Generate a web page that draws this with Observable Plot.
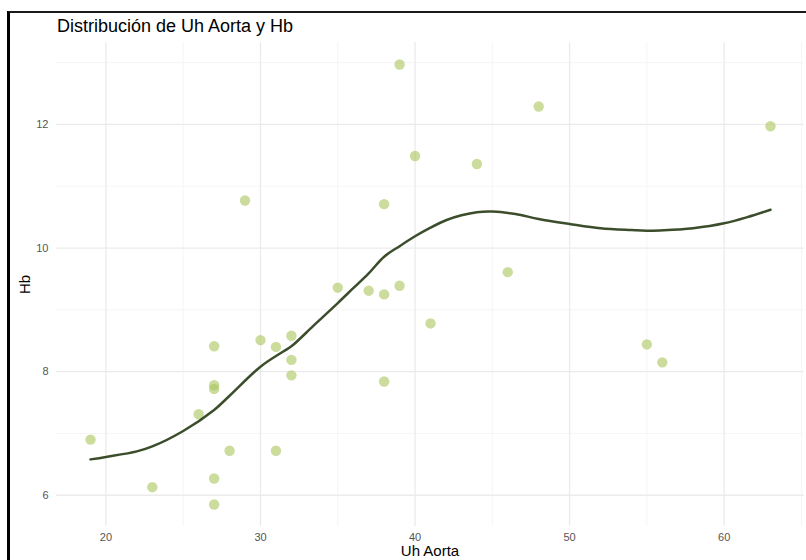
<!DOCTYPE html>
<html>
<head>
<meta charset="utf-8">
<script src="https://cdn.jsdelivr.net/npm/d3@7"></script>
<script src="https://cdn.jsdelivr.net/npm/@observablehq/plot@0.6"></script>
<style>
  html, body { margin: 0; padding: 0; background: #fff; }
  #wrap { position: relative; width: 806px; height: 560px; overflow: hidden;
          font-family: "Liberation Sans", Arial, sans-serif; }
  #frame { position: absolute; left: 7px; top: 11px; right: -10px; bottom: -10px;
           border-left: 3px solid #000; border-top: 2px solid #1a1a1a; pointer-events: none; }
  #chart { position: absolute; left: 0; top: 0; }
  .lbl { position: absolute; color: #000; white-space: nowrap; }
  #title { left: 57px; top: 17.3px; font-size: 18px; line-height: 18px; }
  #xlab { left: 330px; width: 200px; text-align: center; top: 543.3px; font-size: 15px; line-height: 15px; }
  #ylab { left: 3.8px; top: 276.5px; width: 40px; height: 15px; text-align: center;
          font-size: 15px; line-height: 15px; transform: rotate(-90deg); transform-origin: center; }
</style>
</head>
<body>
<div id="wrap">
  <div id="chart"></div>
  <div id="frame"></div>
  <div class="lbl" id="title">Distribución de Uh Aorta y Hb</div>
  <div class="lbl" id="xlab">Uh Aorta</div>
  <div class="lbl" id="ylab">Hb</div>
</div>
<script>
// Observations: Uh Aorta vs Hb
const uhAorta = [19, 23, 26, 27, 27, 27, 27, 27, 28, 29, 30, 31, 31, 32, 32, 32,
                 35, 37, 38, 38, 38, 39, 39, 40, 41, 44, 46, 48, 55, 56, 63];
const hb = [6.90, 6.13, 7.31, 8.41, 7.78, 7.72, 6.27, 5.85, 6.72, 10.77, 8.51, 8.40, 6.72, 8.58, 8.19, 7.94,
            9.36, 9.31, 9.25, 10.71, 7.84, 12.97, 9.39, 11.49, 8.78, 11.36, 9.61, 12.29, 8.44, 8.15, 11.97];

// Smoothed trend (loess fit)
const smoothX = [19, 20, 22, 23, 25, 27, 28, 30, 31.5, 32, 33.5, 35, 36, 37, 38, 39, 40, 41, 42, 43,
                 44, 45, 46.5, 48, 50, 52, 54, 55, 57, 58, 60, 61.5, 63];
const smoothY = [6.58, 6.62, 6.71, 6.79, 7.04, 7.38, 7.61, 8.08, 8.33, 8.41, 8.76, 9.11, 9.35, 9.59, 9.86,
                 10.03, 10.19, 10.33, 10.45, 10.53, 10.58, 10.59, 10.55, 10.47, 10.39, 10.32, 10.29, 10.28,
                 10.30, 10.32, 10.40, 10.50, 10.62];

// Axis ticks and gridlines
const xTicks = [20, 30, 40, 50, 60];
const xMinor = [25, 35, 45, 55, 65];
const yTicks = [6, 8, 10, 12];
const yMinor = [7, 9, 11, 13];

const points = uhAorta.map((x, i) => ({x, y: hb[i]}));
const trend = smoothX.map((x, i) => ({x, y: smoothY[i]}));

const chart = Plot.plot({
  width: 806,
  height: 560,
  marginLeft: 56,
  marginRight: 2,
  marginTop: 42,
  marginBottom: 34,
  style: {
    fontFamily: "Liberation Sans, Arial, sans-serif",
    fontSize: "11px",
    color: "#555",
    background: "transparent",
    overflow: "visible"
  },
  x: {domain: [16.8, 65.2]},
  y: {domain: [5.494, 13.326]},
  marks: [
    Plot.ruleX(xMinor, {stroke: "#f2f2f2", strokeWidth: 0.8}),
    Plot.ruleY(yMinor, {stroke: "#f2f2f2", strokeWidth: 0.8}),
    Plot.ruleX(xTicks, {stroke: "#ebebeb", strokeWidth: 1.3}),
    Plot.ruleY(yTicks, {stroke: "#ebebeb", strokeWidth: 1.3}),
    Plot.axisX({ticks: xTicks, tickSize: 0, tickPadding: 7, label: null, fill: "#555"}),
    Plot.axisY({ticks: yTicks, tickSize: 0, tickPadding: 8, label: null, fill: "#555"}),
    Plot.dot(points, {x: "x", y: "y", r: 5.2, fill: "#a9c55c", fillOpacity: 0.6, stroke: "none"}),
    Plot.line(trend, {x: "x", y: "y", stroke: "#3b4d2b", strokeWidth: 2.5, curve: "catmull-rom"})
  ]
});

document.getElementById("chart").appendChild(chart);
</script>
</body>
</html>
